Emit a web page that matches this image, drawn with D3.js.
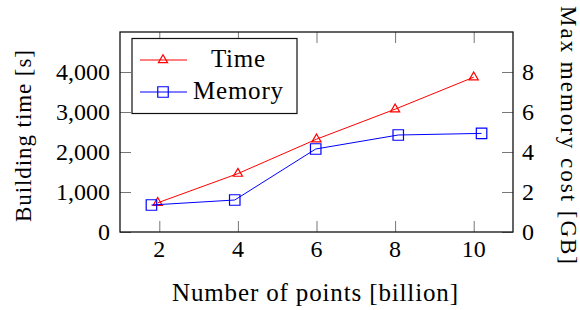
<!DOCTYPE html>
<html>
<head>
<meta charset="utf-8">
<script src="https://cdn.jsdelivr.net/npm/d3@7"></script>
<style>
  html, body { margin: 0; padding: 0; background: #fff; }
  svg { display: block; font-family: "Liberation Serif", "DejaVu Serif", serif; }
</style>
</head>
<body>
<svg id="chart"></svg>
<script>
// Data
const timeX = [1.96, 4, 6, 8, 10];
const timeSeconds = [730, 1460, 2320, 3070, 3870];
const memoryX = [1.8, 3.92, 5.98, 8.08, 10.2];
const memoryGB = [1.35, 1.6, 4.15, 4.85, 4.93];

const xTicks = [2, 4, 6, 8, 10];
const leftTicks = [0, 1000, 2000, 3000, 4000];
const rightTicks = [0, 2, 4, 6, 8];

const width = 580, height = 310;
const box = { left: 120, right: 513, top: 32, bottom: 232 };

const svg = d3.select("#chart").attr("width", width).attr("height", height);

// Scales
const xScale = d3.scaleLinear().domain([1, 11]).range([box.left, box.right]);
const yLeft = d3.scaleLinear().domain([0, 5000]).range([box.bottom, box.top]);
const yRight = d3.scaleLinear().domain([0, 10]).range([box.bottom, box.top]);

const tickLen = 11;
const fmt = d3.format(",");

// inward ticks (no labels) on all sides
const g = svg.append("g");
g.append("g").attr("transform", `translate(0,${box.bottom})`)
  .call(d3.axisTop(xScale).tickValues(xTicks).tickSize(tickLen).tickFormat(""))
  .call(a => a.select(".domain").remove());
g.append("g").attr("transform", `translate(0,${box.top})`)
  .call(d3.axisBottom(xScale).tickValues(xTicks).tickSize(tickLen).tickFormat(""))
  .call(a => a.select(".domain").remove());
g.append("g").attr("transform", `translate(${box.left},0)`)
  .call(d3.axisRight(yLeft).tickValues(leftTicks).tickSize(tickLen).tickFormat(""))
  .call(a => a.select(".domain").remove());
g.append("g").attr("transform", `translate(${box.right},0)`)
  .call(d3.axisLeft(yRight).tickValues(rightTicks).tickSize(tickLen).tickFormat(""))
  .call(a => a.select(".domain").remove());
g.selectAll(".tick line").attr("stroke", "#777").attr("stroke-width", 1);

// tick labels
const labelSize = 24;
svg.append("g").selectAll("text").data(xTicks).join("text")
  .attr("x", d => xScale(d)).attr("y", box.bottom + 25)
  .attr("text-anchor", "middle").attr("font-size", labelSize)
  .text(d => d);
svg.append("g").selectAll("text").data(leftTicks).join("text")
  .attr("x", box.left - 10).attr("y", d => yLeft(d) + 8)
  .attr("text-anchor", "end").attr("font-size", labelSize)
  .text(d => fmt(d));
svg.append("g").selectAll("text").data(rightTicks).join("text")
  .attr("x", box.right + 9).attr("y", d => yRight(d) + 8)
  .attr("text-anchor", "start").attr("font-size", labelSize)
  .text(d => d);

// frame
svg.append("rect")
  .attr("x", box.left).attr("y", box.top)
  .attr("width", box.right - box.left).attr("height", box.bottom - box.top)
  .attr("fill", "none").attr("stroke", "#111").attr("stroke-width", 1.3);

// series
const timeData = timeX.map((x, i) => ({ x, y: timeSeconds[i] }));
const memData = memoryX.map((x, i) => ({ x, y: memoryGB[i] }));

const triangle = d3.symbol().type(d3.symbolTriangle).size(36);
const square = d3.symbol().type(d3.symbolSquare).size(110);

svg.append("path").datum(timeData)
  .attr("d", d3.line().x(d => xScale(d.x)).y(d => yLeft(d.y)))
  .attr("fill", "none").attr("stroke", "#ff0000").attr("stroke-width", 1);
svg.append("g").selectAll("path").data(timeData).join("path")
  .attr("transform", d => `translate(${xScale(d.x)},${yLeft(d.y)})`)
  .attr("d", triangle).attr("fill", "none").attr("stroke", "#ff0000").attr("stroke-width", 1.2);

svg.append("path").datum(memData)
  .attr("d", d3.line().x(d => xScale(d.x)).y(d => yRight(d.y)))
  .attr("fill", "none").attr("stroke", "#0000ff").attr("stroke-width", 1);
svg.append("g").selectAll("path").data(memData).join("path")
  .attr("transform", d => `translate(${xScale(d.x)},${yRight(d.y)})`)
  .attr("d", square).attr("fill", "none").attr("stroke", "#0000ff").attr("stroke-width", 1.2);

// legend
const legend = svg.append("g");
legend.append("rect")
  .attr("x", 132).attr("y", 38.5).attr("width", 165).attr("height", 75)
  .attr("fill", "#fff").attr("stroke", "#111").attr("stroke-width", 1.2);
const items = [
  { name: "Time", color: "#ff0000", sym: triangle, y: 60, len: 54 },
  { name: "Memory", color: "#0000ff", sym: square, y: 92, len: 90 }
];
items.forEach(it => {
  legend.append("line").attr("x1", 140).attr("x2", 187).attr("y1", it.y).attr("y2", it.y)
    .attr("stroke", it.color).attr("stroke-width", 1);
  legend.append("path").attr("transform", `translate(163,${it.y})`).attr("d", it.sym)
    .attr("fill", "none").attr("stroke", it.color).attr("stroke-width", 1.2);
  legend.append("text").attr("x", 238).attr("y", it.y + 7)
    .attr("text-anchor", "middle").attr("font-size", 25)
    .attr("textLength", it.len).attr("lengthAdjust", "spacing").text(it.name);
});

// axis titles
svg.append("text").attr("x", 315).attr("y", 301)
  .attr("text-anchor", "middle").attr("font-size", 25)
  .attr("textLength", 286).attr("lengthAdjust", "spacing")
  .text("Number of points [billion]");
svg.append("text").attr("transform", "translate(31,136) rotate(-90)")
  .attr("text-anchor", "middle").attr("font-size", 23)
  .attr("textLength", 172).attr("lengthAdjust", "spacing")
  .text("Building time [s]");
svg.append("text").attr("transform", "translate(561,135) rotate(90)")
  .attr("text-anchor", "middle").attr("font-size", 23)
  .attr("textLength", 258).attr("lengthAdjust", "spacing")
  .text("Max memory cost [GB]");
</script>
</body>
</html>
